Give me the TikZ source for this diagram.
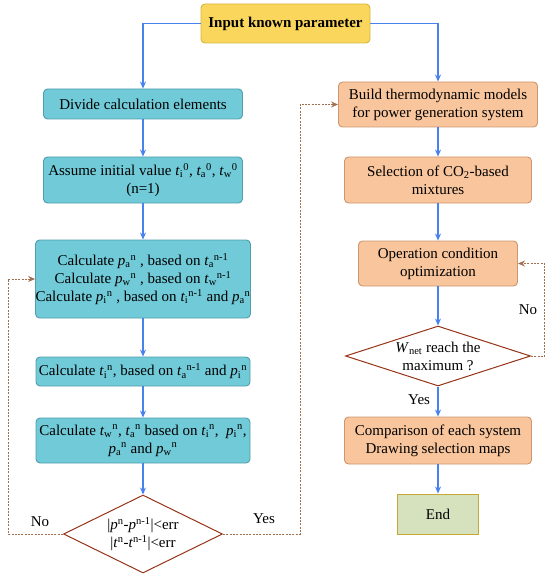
\documentclass[tikz,border=0pt]{standalone}
\usepackage{fontspec}
\setmainfont{Liberation Serif}
\usetikzlibrary{arrows.meta,shapes.geometric}
\definecolor{tealfill}{RGB}{112,202,216}
\definecolor{tealdraw}{RGB}{82,158,172}
\definecolor{orfill}{RGB}{248,197,156}
\definecolor{ordraw}{RGB}{206,150,112}
\definecolor{yefill}{RGB}{250,214,92}
\definecolor{yedraw}{RGB}{214,180,62}
\definecolor{enfill}{RGB}{214,226,190}
\definecolor{endraw}{RGB}{198,168,52}
\definecolor{dmdraw}{RGB}{150,52,24}
\definecolor{arrblue}{RGB}{72,130,238}
\definecolor{dashbrown}{RGB}{160,112,80}
\newcommand{\vv}[3]{\textit{#1}\textsubscript{#2}\textsuperscript{#3}}
\newcommand{\vs}[2]{\textit{#1}\textsuperscript{#2}}
\begin{document}
\begin{tikzpicture}[x=1pt,y=-1pt,
  every node/.style={font=\rmfamily\fontsize{15}{18}\selectfont, align=center, text=black},
  box/.style={draw, line width=0.9pt, rounded corners=4pt, inner sep=0pt},
  tealbox/.style={box, fill=tealfill, draw=tealdraw},
  orbox/.style={box, fill=orfill, draw=ordraw},
  dec/.style={diamond, draw=dmdraw, line width=1pt, fill=white, inner sep=0pt},
  arr/.style={draw=arrblue, line width=1.2pt, -{Stealth[length=7pt,width=6pt]}},
  dsh/.style={draw=dashbrown, line width=1pt, dash pattern=on 2pt off 1.3pt, -{Stealth[length=7pt,width=6pt]}}]
\useasboundingbox (0,0) rectangle (550,580);
% left column
\node[box, fill=yefill, draw=yedraw, minimum width=169pt, minimum height=39pt] (in) at (285.5,23.5) {\textbf{Input known parameter}};
\node[tealbox, minimum width=199pt, minimum height=30pt] (div) at (143,104) {Divide calculation elements};
\node[tealbox, minimum width=199pt, minimum height=46pt] (ass) at (143,180) {Assume initial value \vv{t}{i}{0}, \vv{t}{a}{0}, \vv{t}{w}{0}\\(n=1)};
\node[tealbox, minimum width=214pt, minimum height=78pt] (cp) at (143,279) {Calculate \vv{p}{a}{n} , based on \vv{t}{a}{n-1}\\Calculate \vv{p}{w}{n} , based on \vv{t}{w}{n-1}\\Calculate \vv{p}{i}{n} , based on \vv{t}{i}{n-1} and \vv{p}{a}{n}};
\node[tealbox, minimum width=214pt, minimum height=29pt] (ct) at (143,371.5) {Calculate \vv{t}{i}{n}, based on \vv{t}{a}{n-1} and \vv{p}{i}{n}};
\node[tealbox, minimum width=214pt, minimum height=45pt] (ctw) at (143,440.5) {Calculate \vv{t}{w}{n}, \vv{t}{a}{n} based on \vv{t}{i}{n},\ \ \vv{p}{i}{n},\\\vv{p}{a}{n} and \vv{p}{w}{n}};
\node[dec, minimum width=159pt, minimum height=78pt] (d1) at (143,534) {};
\node[inner sep=0pt] (d1t) at (143,534) {|\vs{p}{n}-\vs{p}{n-1}|<err\\|\vs{t}{n}-\vs{t}{n-1}|<err};
% right column
\node[orbox, minimum width=199pt, minimum height=45pt] (bu) at (438,104.5) {Build thermodynamic models\\for power generation system};
\node[orbox, minimum width=187pt, minimum height=46pt] (se) at (438,180) {Selection of CO\textsubscript{2}-based\\mixtures};
\node[orbox, minimum width=159pt, minimum height=45pt] (op) at (438,263.5) {Operation condition\\optimization};
\node[dec, minimum width=185pt, minimum height=60pt] (d2) at (438,356) {};
\node[inner sep=0pt] (d2t) at (438,356) {\textit{W}\textsubscript{net} reach the\\maximum ?};
\node[orbox, minimum width=187pt, minimum height=47pt] (co) at (438,440.5) {Comparison of each system\\Drawing selection maps};
\node[draw=endraw, fill=enfill, line width=1pt, minimum width=81pt, minimum height=40pt, inner sep=0pt] (en) at (438,514) {End};
% connectors
\draw[arr] (in.west) -| (div.north);
\draw[arr] (in.east) -| (bu.north);
\draw[arr] (div) -- (ass);
\draw[arr] (ass) -- (cp);
\draw[arr] (cp) -- (ct);
\draw[arr] (ct) -- (ctw);
\draw[arr] (ctw) -- (d1.north);
\draw[arr] (bu) -- (se);
\draw[arr] (se) -- (op);
\draw[arr] (op) -- (d2.north);
\draw[arr] (d2.south) -- node[left=4pt, pos=0.45] (yes2) {Yes} (co);
\draw[arr] (co) -- (en);
\draw[dsh] (d1.west) -| ([xshift=-27pt]cp.west) -- (cp.west);
\draw[dsh] (d1.east) -| ([xshift=-38pt]bu.west) -- (bu.west);
\draw[dsh] (d2.east) -| ([xshift=27pt]op.east) -- (op.east);
\node (no1) at (40,522) {No};
\node (yes1) at (264,519) {Yes};
\node (no2) at (528,310) {No};
\end{tikzpicture}
\end{document}
